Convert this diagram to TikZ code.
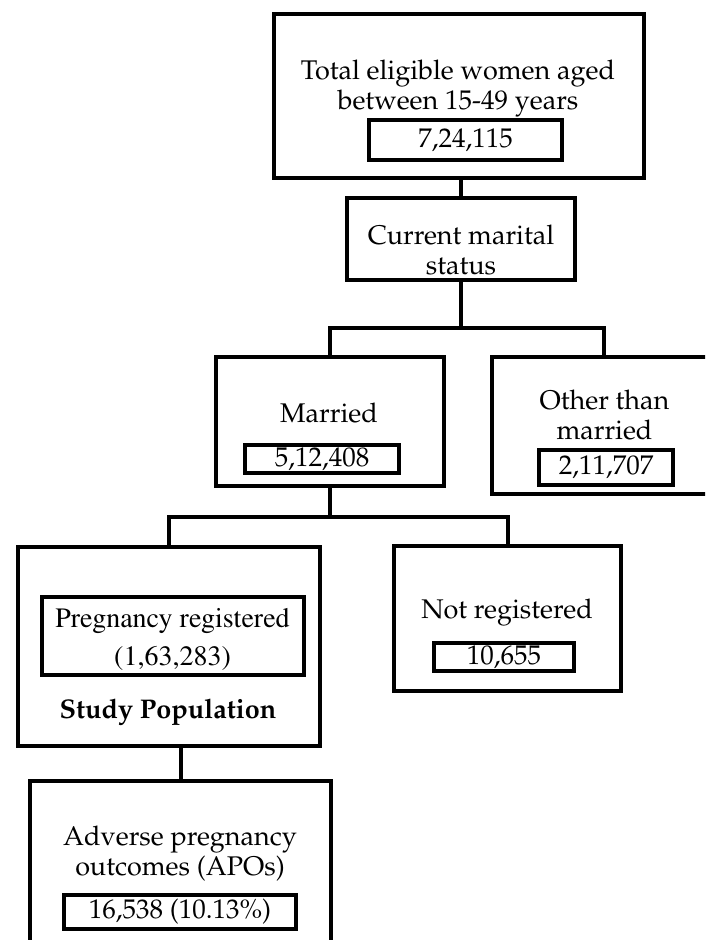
\documentclass[tikz,border=0pt]{standalone}
\usepackage[T1]{fontenc}
\usepackage{tikz}
\usetikzlibrary{positioning}
\renewcommand{\rmdefault}{ppl}
\newcommand{\timesfont}{\fontfamily{ptm}\selectfont}
\tikzstyle{outerbox} = [rectangle, draw=black, line width=2pt, fill=white, inner sep=0pt]
\tikzstyle{numbox} = [rectangle, draw=black, line width=2pt, fill=white, inner sep=0pt, font=\fontsize{13.5}{15}\selectfont]
\tikzstyle{boxtext} = [inner sep=0pt, align=center, font=\fontsize{13.5}{15}\selectfont]
\tikzstyle{link} = [line width=2pt, line cap=rect]

\begin{document}
\begin{tikzpicture}[x=0.5pt, y=-0.5pt]
\useasboundingbox (0,0) rectangle (705,940);
\clip (0,0) rectangle (705,940);

% Boxes
\node (totalbox) [outerbox, minimum width=185pt, minimum height=82pt] at (459,96) {};
\node (statusbox) [outerbox, minimum width=114pt, minimum height=41pt] at (461,239) {};
\node (marriedbox) [outerbox, minimum width=114pt, minimum height=64.5pt] at (330,421.5) {};
\node (otherbox) [outerbox, minimum width=112pt, minimum height=68.5pt] at (604,425.5) {};
\node (studybox) [outerbox, minimum width=151pt, minimum height=99.5pt] at (169,646.5) {};
\node (notregbox) [outerbox, minimum width=113.5pt, minimum height=72.5pt] at (507.5,618.5) {};
\node (apobox) [outerbox, minimum width=150.5pt, minimum height=89.5pt] at (180.5,870.5) {};

% Texts
\node (totaltxt) [boxtext] at (458,88.5) {Total eligible women aged\\between 15-49 years};
\node (statustxt) [boxtext] at (461,250) {Current marital\\status};
\node (marriedtxt) [boxtext, anchor=base] at (329,422) {Married};
\node (othertxt) [boxtext] at (604.5,415) {Other than\\married};
\node (studytxt) [boxtext, font=\fontsize{13.5}{15}\selectfont\bfseries, anchor=base] at (168,718) {Study Population};
\node (notregtxt) [boxtext, anchor=base] at (507,618) {Not registered};
\node (apotxt) [boxtext] at (180,854) {Adverse pregnancy\\outcomes (APOs)};

% Counts
\node (totalnum) [numbox, minimum width=96.5pt, minimum height=20pt] at (465.5,140) {7,24,115};
\node (marriednum) [numbox, minimum width=77pt, minimum height=14pt] at (322,459) {5,12,408};
\node (othernum) [numbox, minimum width=67pt, minimum height=17.5pt] at (606,467.5) {2,11,707};
\node (pregbox) [numbox, minimum width=131pt, minimum height=39pt] at (173,636) {};
\node (pregtxt) [boxtext, font=\fontsize{14}{19}\timesfont] at (172.5,639.5) {Pregnancy registered\\(1,63,283)};
\node (notregnum) [numbox, minimum width=70pt, minimum height=14pt] at (504,657) {10,655};
\node (aponum) [numbox, minimum width=116pt, minimum height=17pt] at (180,912) {16,538 (10.13\%)};

% Links
\coordinate (split1) at (461,328);
\coordinate (split2) at (330,517);
\draw [link] (statusbox.north) -- (statusbox.north |- totalbox.south);
\draw [link] (statusbox.south) -- (split1);
\draw [link] (marriedbox.north) |- (split1) -| (otherbox.north);
\draw [link] (marriedbox.south) -- (split2);
\draw [link] (studybox.north) |- (split2) -| (notregbox.north);
\draw [link] (apobox.north) -- (apobox.north |- studybox.south);

\end{tikzpicture}
\end{document}
